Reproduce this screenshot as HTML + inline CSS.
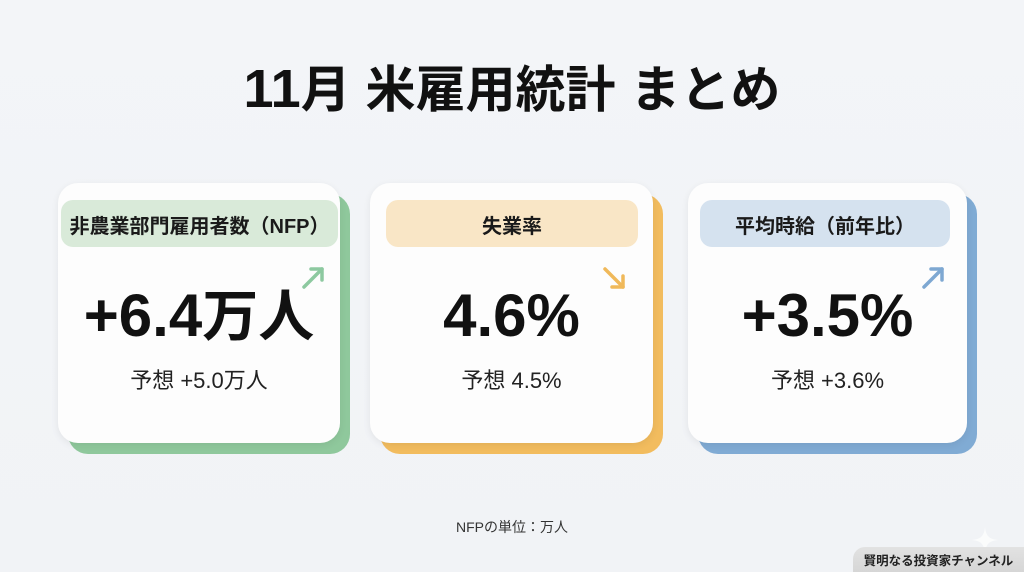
<!DOCTYPE html>
<html lang="ja">
<head>
<meta charset="utf-8">
<style>
  html, body { margin:0; padding:0; }
  body {
    width:1024px; height:572px; overflow:hidden; position:relative;
    background: linear-gradient(180deg, #f3f5f8 0%, #f1f3f6 100%);
    font-family: "Liberation Sans", "Noto Sans CJK JP", sans-serif;
    color:#111;
  }
  .abs { position:absolute; }
  .title {
    left:0; width:1024px; top:65px; text-align:center;
    font-size:50px; line-height:50px; font-weight:bold; word-spacing:1px;
    white-space:nowrap; color:#111;
  }
  .shadow { border-radius:20px; }
  .card { background:#fdfdfd; border-radius:20px; box-shadow:0 2px 8px rgba(0,0,0,0.07); }
  .label {
    border-radius:12px; font-size:20px; line-height:20px; font-weight:bold;
    text-align:center; white-space:nowrap; color:#1a1a1a;
  }
  .big {
    font-size:60px; line-height:60px; font-weight:bold; text-align:center; white-space:nowrap; color:#111;
  }
  .sub {
    font-size:22px; line-height:22px; text-align:center; white-space:nowrap; color:#222;
  }
  .footer {
    left:0; width:1024px; top:520px; text-align:center; font-size:14px; line-height:14px; color:#333;
  }
  .badge {
    left:853px; top:547px; width:171px; height:25px; border-top-left-radius:12px;
    background: linear-gradient(180deg, #e2e2e2 0%, #d6d6d6 100%);
  }
  .badgetext {
    left:853px; width:171px; top:555px; text-align:center; font-size:12.5px; line-height:12.5px;
    font-weight:bold; color:#222; white-space:nowrap;
  }
</style>
</head>
<body>

<div class="abs title"><span style="font-size:54px;line-height:0">11</span>月 米雇用統計 まとめ</div>

<!-- Card 1 -->
<div class="abs shadow" style="left:68px;top:194px;width:282px;height:260px;background:#8fc89c;"></div>
<div class="abs card" style="left:58px;top:183px;width:282px;height:260px;"></div>
<div class="abs label" style="left:61px;top:200px;width:277px;height:47px;background:#d9ead9;"></div>
<div class="abs label" style="left:61px;top:217px;width:277px;">非農業部門雇用者数（NFP）</div>
<svg class="abs" style="left:298px;top:262px" width="32" height="32" viewBox="0 0 32 32">
  <g stroke="#8dc9a0" stroke-width="3.5" fill="none" stroke-linecap="round" stroke-linejoin="round">
    <line x1="6" y1="25" x2="24" y2="7"/>
    <polyline points="13,7 24,7 24,18"/>
  </g>
</svg>
<div class="abs big" style="left:58px;top:286px;width:282px;">+6.4<span style="font-size:56px;line-height:0">万人</span></div>
<div class="abs sub" style="left:58px;top:370px;width:282px;">予想 +5.0万人</div>

<!-- Card 2 -->
<div class="abs shadow" style="left:380px;top:194px;width:283px;height:260px;background:#f2bc5e;"></div>
<div class="abs card" style="left:370px;top:183px;width:283px;height:260px;"></div>
<div class="abs label" style="left:386px;top:200px;width:252px;height:47px;background:#f9e6c6;"></div>
<div class="abs label" style="left:386px;top:217px;width:252px;">失業率</div>
<svg class="abs" style="left:598px;top:262px" width="32" height="32" viewBox="0 0 32 32">
  <g stroke="#f0b95a" stroke-width="3.5" fill="none" stroke-linecap="round" stroke-linejoin="round">
    <line x1="7" y1="7" x2="25" y2="25"/>
    <polyline points="25,14 25,25 14,25"/>
  </g>
</svg>
<div class="abs big" style="left:370px;top:286px;width:283px;">4.6%</div>
<div class="abs sub" style="left:370px;top:370px;width:283px;">予想 4.5%</div>

<!-- Card 3 -->
<div class="abs shadow" style="left:698px;top:194px;width:279px;height:260px;background:#80abd4;"></div>
<div class="abs card" style="left:688px;top:183px;width:279px;height:260px;"></div>
<div class="abs label" style="left:700px;top:200px;width:250px;height:47px;background:#d5e2ef;"></div>
<div class="abs label" style="left:700px;top:217px;width:250px;">平均時給（前年比）</div>
<svg class="abs" style="left:918px;top:262px" width="32" height="32" viewBox="0 0 32 32">
  <g stroke="#7ea8d2" stroke-width="3.5" fill="none" stroke-linecap="round" stroke-linejoin="round">
    <line x1="6" y1="25" x2="24" y2="7"/>
    <polyline points="13,7 24,7 24,18"/>
  </g>
</svg>
<div class="abs big" style="left:688px;top:286px;width:279px;">+3.5%</div>
<div class="abs sub" style="left:688px;top:370px;width:279px;">予想 +3.6%</div>

<div class="abs footer">NFPの単位：万人</div>

<svg class="abs" style="left:972px;top:527px" width="26" height="26" viewBox="0 0 26 26">
  <path d="M13 0 C14 9 17 12 26 13 C17 14 14 17 13 26 C12 17 9 14 0 13 C9 12 12 9 13 0 Z" fill="#ffffff" opacity="0.7"/>
</svg>

<div class="abs badge"></div>
<div class="abs badgetext">賢明なる投資家チャンネル</div>

</body>
</html>
